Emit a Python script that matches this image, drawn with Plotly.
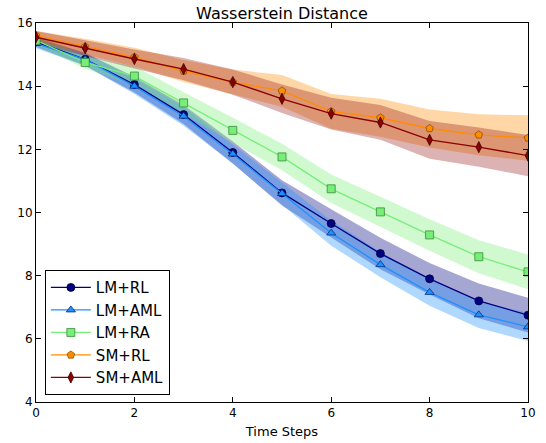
import plotly.graph_objects as go

steps = list(range(11))

lm_rl = [15.4, 14.85, 14.05, 13.1, 11.9, 10.62, 9.65, 8.7, 7.9, 7.2, 6.75]
lm_rl_sd = [0.15, 0.2, 0.25, 0.3, 0.35, 0.4, 0.45, 0.5, 0.5, 0.55, 0.55]

lm_aml = [15.35, 14.85, 14.0, 13.05, 11.85, 10.6, 9.35, 8.35, 7.47, 6.76, 6.38]
lm_aml_sd = [0.15, 0.2, 0.25, 0.3, 0.3, 0.35, 0.4, 0.4, 0.42, 0.42, 0.45]

lm_ra = [15.45, 14.75, 14.32, 13.47, 12.6, 11.76, 10.75, 10.02, 9.29, 8.6, 8.12]
lm_ra_sd = [0.15, 0.2, 0.3, 0.35, 0.4, 0.42, 0.45, 0.48, 0.5, 0.52, 0.55]

sm_rl = [15.6, 15.25, 14.92, 14.48, 14.13, 13.85, 13.2, 13.0, 12.66, 12.46, 12.36]
sm_rl_sd = [0.15, 0.25, 0.3, 0.35, 0.4, 0.5, 0.55, 0.6, 0.6, 0.65, 0.72]

sm_aml = [15.55, 15.2, 14.86, 14.54, 14.13, 13.6, 13.13, 12.85, 12.3, 12.07, 11.8]
sm_aml_sd = [0.2, 0.25, 0.3, 0.35, 0.4, 0.45, 0.5, 0.55, 0.6, 0.62, 0.65]

series = [
    ("LM+RL", lm_rl, lm_rl_sd, "#000080", "#000080", "circle", 8, "#000040", "rgba(0,0,128,0.35)"),
    ("LM+AML", lm_aml, lm_aml_sd, "#1E90FF", "#1E90FF", "triangle-up", 8, "#003080", "rgba(30,144,255,0.35)"),
    ("LM+RA", lm_ra, lm_ra_sd, "#77EE77", "#77EE77", "square", 8, "#3a8a3a", "rgba(119,238,119,0.35)"),
    ("SM+RL", sm_rl, sm_rl_sd, "#FF8C00", "#FF8C00", "pentagon", 8, "#8a5000", "rgba(255,140,0,0.35)"),
    ("SM+AML", sm_aml, sm_aml_sd, "#8B0000", "#8B0000", "diamond-tall", 8, "#400000", "rgba(139,0,0,0.3)"),
]

fig = go.Figure()

# bands
for name, vals, sd, lc, mc, sym, ms, ec, fc in series:
    upper = [v + s for v, s in zip(vals, sd)]
    lower = [v - s for v, s in zip(vals, sd)]
    fig.add_trace(go.Scatter(
        x=steps + steps[::-1], y=upper + lower[::-1],
        fill="toself", fillcolor=fc, line=dict(width=0), mode="lines",
        hoverinfo="skip", showlegend=False,
    ))

for name, vals, sd, lc, mc, sym, ms, ec, fc in series:
    fig.add_trace(go.Scatter(
        x=steps, y=vals, name=name, mode="lines+markers",
        line=dict(color=lc, width=1.3),
        marker=dict(symbol=sym, size=ms, color=mc, line=dict(color=ec, width=0.8)),
    ))

axis_common = dict(
    showline=True, linecolor="black", linewidth=1, mirror="allticks",
    ticks="inside", ticklen=5, tickcolor="black", showgrid=False, zeroline=False,
    automargin=False,
    tickfont=dict(family="DejaVu Sans", size=12, color="black"),
)

fig.update_layout(
    width=546, height=443,
    margin=dict(l=36, r=18, t=23, b=41),
    paper_bgcolor="white", plot_bgcolor="white",
    font=dict(family="DejaVu Sans", color="black"),
    title=dict(text="Wasserstein Distance", x=0.5, xref="paper", xanchor="center",
               y=1 - 13 / 443, yref="container", yanchor="middle",
               font=dict(size=16, family="DejaVu Sans", color="black")),
    xaxis=dict(range=[0, 10], tickvals=[0, 2, 4, 6, 8, 10],
               title=dict(text="Time Steps", standoff=7, font=dict(size=13)), **axis_common),
    yaxis=dict(range=[4, 16], tickvals=[4, 6, 8, 10, 12, 14, 16], **axis_common),
    legend=dict(x=0.018, y=0.018, xanchor="left", yanchor="bottom",
                bgcolor="white", bordercolor="black", borderwidth=1,
                font=dict(size=15, family="DejaVu Sans", color="black"),
                tracegroupgap=0, itemwidth=40),
)

fig.write_html("out.html", config={"displayModeBar": False},
               post_script="document.body.style.margin='0';document.body.style.overflow='hidden';")
